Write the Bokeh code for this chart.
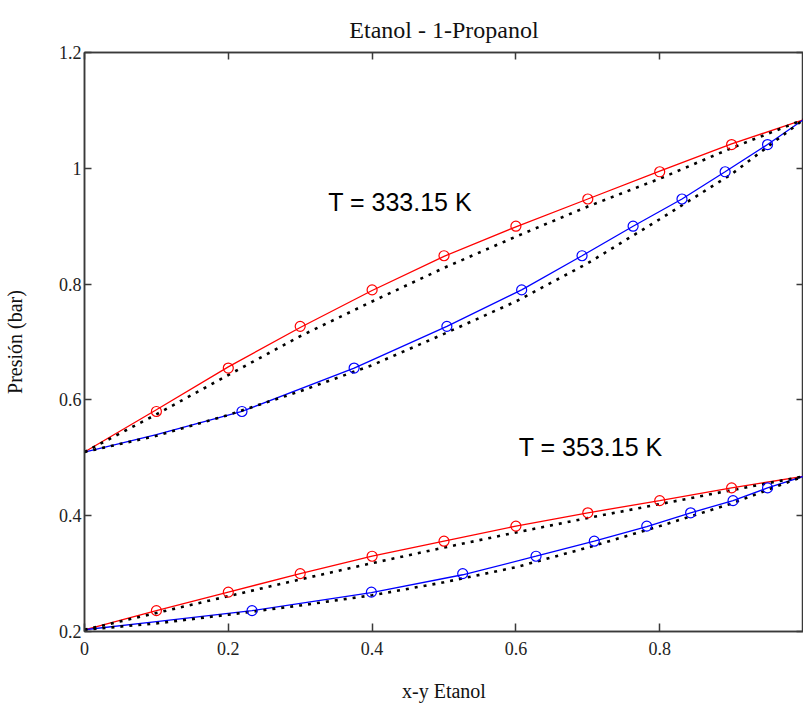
from bokeh.plotting import figure
from bokeh.models import (LinearAxis, FixedTicker, CustomJSTickFormatter, Title,
                          CustomLabelingPolicy)
from bokeh.core.properties import value
from bokeh.embed import file_html
from bokeh.resources import INLINE

# ---- data: pressure (bar) vs ethanol mole fraction ----
# T = 333.15 K set (upper)
xc_hi = [0.1, 0.2, 0.3, 0.4, 0.5, 0.6, 0.7, 0.8, 0.9]
p_hi = [0.580, 0.655, 0.727, 0.790, 0.849, 0.900, 0.947, 0.994, 1.041]
yc_hi = [0.219, 0.375, 0.504, 0.608, 0.692, 0.763, 0.831, 0.891, 0.950]

bub_hi_x = [0.0, 0.1, 0.2, 0.3, 0.4, 0.5, 0.6, 0.7, 0.8, 0.9, 1.0]
bub_hi_p = [0.510, 0.583, 0.657, 0.725, 0.789, 0.848, 0.899, 0.947, 0.995, 1.042, 1.084]
dew_hi_x = [0.0, 0.05, 0.1, 0.219, 0.375, 0.504, 0.608, 0.692, 0.763, 0.831, 0.891, 0.95, 1.0]
dew_hi_p = [0.510, 0.525, 0.540, 0.580, 0.655, 0.727, 0.790, 0.849, 0.900, 0.947, 0.994, 1.041, 1.084]

ideal_bub_hi_x = [0.0, 0.1, 0.2, 0.3, 0.4, 0.5, 0.6, 0.7, 0.8, 0.9, 1.0]
ideal_bub_hi_p = [0.510, 0.575, 0.643, 0.710, 0.770, 0.828, 0.882, 0.934, 0.982, 1.035, 1.084]
ideal_dew_hi_x = [0.0, 0.1, 0.2, 0.3, 0.4, 0.5, 0.6, 0.7, 0.8, 0.9, 1.0]
ideal_dew_hi_p = [0.510, 0.538, 0.574, 0.615, 0.660, 0.714, 0.770, 0.836, 0.912, 0.990, 1.084]

# T = 353.15 K set (lower)
xc_lo = [0.1, 0.2, 0.3, 0.4, 0.5, 0.6, 0.7, 0.8, 0.9]
p_lo = [0.236, 0.268, 0.300, 0.330, 0.356, 0.382, 0.405, 0.426, 0.448]
yc_lo = [0.233, 0.399, 0.526, 0.628, 0.709, 0.782, 0.843, 0.902, 0.950]

bub_lo_x = [0.0, 0.1, 0.2, 0.3, 0.4, 0.5, 0.6, 0.7, 0.8, 0.9, 1.0]
bub_lo_p = [0.203, 0.236, 0.268, 0.300, 0.330, 0.356, 0.382, 0.405, 0.426, 0.448, 0.468]
dew_lo_x = [0.0, 0.1, 0.233, 0.399, 0.526, 0.628, 0.709, 0.782, 0.843, 0.902, 0.95, 1.0]
dew_lo_p = [0.203, 0.217, 0.236, 0.267, 0.298, 0.330, 0.356, 0.381, 0.405, 0.426, 0.448, 0.468]

ideal_bub_lo_x = [0.0, 0.1, 0.2, 0.3, 0.4, 0.5, 0.6, 0.7, 0.8, 0.9, 1.0]
ideal_bub_lo_p = [0.203, 0.232, 0.261, 0.290, 0.318, 0.345, 0.371, 0.396, 0.420, 0.444, 0.468]
ideal_dew_lo_x = [0.0, 0.1, 0.2, 0.3, 0.4, 0.5, 0.6, 0.7, 0.8, 0.9, 1.0]
ideal_dew_lo_p = [0.203, 0.214, 0.229, 0.245, 0.2625, 0.285, 0.311, 0.345, 0.382, 0.421, 0.468]

x_ticks = [0, 0.2, 0.4, 0.6, 0.8]
y_ticks = [0.2, 0.4, 0.6, 0.8, 1.0, 1.2]

labels = ["T = 333.15 K", "T = 353.15 K"]
label_x = [0.339, 0.604]
label_y = [0.942, 0.518]

SERIF = "Liberation Serif"
SANS = "Liberation Sans"
AXIS_COLOR = "#3a3a3a"

p = figure(width=803, height=704, x_range=(0, 1.0), y_range=(0.2, 1.2),
           output_backend="svg", toolbar_location=None,
           min_border_left=80, min_border_right=0, min_border_top=52,
           min_border_bottom=71, x_axis_label="x-y Etanol",
           y_axis_label="Presión (bar)")
p.title = Title(text="Etanol - 1-Propanol", align="center",
                text_font=SERIF, text_font_size="24px",
                text_font_style="normal", text_color="#111111", standoff=20)
p.grid.visible = False
p.outline_line_color = AXIS_COLOR
p.outline_line_width = 1.5

fmt = CustomJSTickFormatter(code="return String(tick)")

for ax in (p.xaxis[0], p.yaxis[0]):
    ax.axis_line_color = AXIS_COLOR
    ax.axis_line_width = 1.5
    ax.major_tick_line_color = AXIS_COLOR
    ax.major_tick_line_width = 1.5
    ax.major_tick_out = 0
    ax.minor_tick_line_color = None
    ax.formatter = fmt
    ax.major_label_text_font = SERIF
    ax.major_label_text_font_size = "18px"
    ax.major_label_text_color = "#222222"
    ax.axis_label_text_font = SERIF
    ax.axis_label_text_font_size = "20px"
    ax.axis_label_text_font_style = "normal"
    ax.axis_label_text_color = "#111111"

p.xaxis[0].ticker = FixedTicker(ticks=x_ticks)
p.xaxis[0].major_tick_in = 8
p.xaxis[0].major_label_standoff = 10
p.xaxis[0].axis_label_standoff = 22
p.yaxis[0].ticker = FixedTicker(ticks=y_ticks)
p.yaxis[0].major_tick_in = 7
p.yaxis[0].major_label_standoff = 3
p.yaxis[0].axis_label_standoff = 30

# tick-only axes on the top and right edges of the frame (no labels drawn)
no_labels = CustomLabelingPolicy(code="return new Set()")
for side, ticks in (("above", x_ticks), ("right", y_ticks)):
    ax = LinearAxis(ticker=FixedTicker(ticks=ticks), major_label_policy=no_labels)
    ax.axis_line_color = AXIS_COLOR
    ax.axis_line_width = 1.5
    ax.major_tick_line_color = AXIS_COLOR
    ax.major_tick_line_width = 1.5
    ax.major_tick_in = 7
    ax.major_tick_out = 0
    ax.minor_tick_line_color = None
    ax.major_label_text_font_size = "0px"
    ax.major_label_standoff = 0
    p.add_layout(ax, side)

# model curves
for xs, ps, col in ((bub_hi_x, bub_hi_p, "#ff0000"), (dew_hi_x, dew_hi_p, "#0000ff"),
                    (bub_lo_x, bub_lo_p, "#ff0000"), (dew_lo_x, dew_lo_p, "#0000ff")):
    p.line(xs, ps, line_color=col, line_width=1.3)

# ideal-solution curves (dotted)
for xs, ps in ((ideal_bub_hi_x, ideal_bub_hi_p), (ideal_dew_hi_x, ideal_dew_hi_p),
               (ideal_bub_lo_x, ideal_bub_lo_p), (ideal_dew_lo_x, ideal_dew_lo_p)):
    p.line(xs, ps, line_color="black", line_width=2.6, line_dash="3 6", line_cap="butt")

# experimental points
p.scatter(xc_hi, p_hi, marker="circle", size=10, fill_color=None, line_color="#ff0000", line_width=1.2)
p.scatter(yc_hi, p_hi, marker="circle", size=10, fill_color=None, line_color="#0000ff", line_width=1.2)
p.scatter(xc_lo, p_lo, marker="circle", size=10, fill_color=None, line_color="#ff0000", line_width=1.2)
p.scatter(yc_lo, p_lo, marker="circle", size=10, fill_color=None, line_color="#0000ff", line_width=1.2)

p.text(x=label_x, y=label_y, text=labels, text_font=value(SANS), text_font_size="25px",
       text_color="black", text_align="left", text_baseline="alphabetic")

open("out.html", "w").write(file_html(p, INLINE))
